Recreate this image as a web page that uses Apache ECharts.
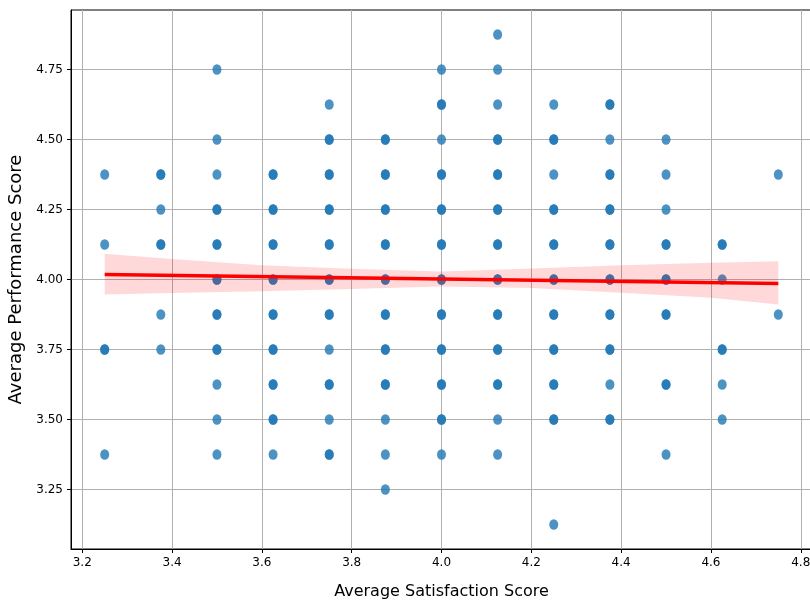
<!DOCTYPE html>
<html>
<head>
<meta charset="utf-8">
<script src="https://cdn.jsdelivr.net/npm/echarts@6/dist/echarts.min.js"></script>
<style>
  html, body { margin: 0; padding: 0; background: #fff; }
  #main { width: 810px; height: 601px; }
</style>
</head>
<body>
<div id="main"></div>
<script>
// scatter points: one array of y values per satisfaction column (repeats = overlapping points)
var colX = [3.25, 3.375, 3.5, 3.625, 3.75, 3.875, 4.0, 4.125, 4.25, 4.375, 4.5, 4.625, 4.75];
var colY = [
  [4.375, 4.125, 3.75, 3.75, 3.375],
  [4.375, 4.375, 4.25, 4.125, 4.125, 3.875, 3.75],
  [4.75, 4.5, 4.375, 4.25, 4.25, 4.125, 4.125, 4.0, 4.0, 3.875, 3.875, 3.75, 3.75, 3.625, 3.5, 3.375],
  [4.375, 4.375, 4.25, 4.25, 4.125, 4.125, 4.0, 4.0, 3.875, 3.875, 3.75, 3.75, 3.625, 3.625, 3.5, 3.5, 3.375],
  [4.625, 4.5, 4.5, 4.375, 4.375, 4.25, 4.25, 4.125, 4.125, 4.0, 4.0, 3.875, 3.875, 3.75, 3.625, 3.625, 3.5, 3.375, 3.375],
  [4.5, 4.5, 4.375, 4.375, 4.25, 4.25, 4.125, 4.125, 4.0, 4.0, 3.875, 3.875, 3.75, 3.75, 3.625, 3.625, 3.5, 3.375, 3.25],
  [4.75, 4.625, 4.625, 4.5, 4.375, 4.375, 4.25, 4.25, 4.125, 4.125, 4.0, 4.0, 3.875, 3.875, 3.75, 3.75, 3.625, 3.625, 3.5, 3.5, 3.375],
  [4.875, 4.75, 4.625, 4.5, 4.5, 4.375, 4.375, 4.25, 4.25, 4.125, 4.125, 4.0, 4.0, 3.875, 3.875, 3.75, 3.75, 3.625, 3.625, 3.5, 3.375],
  [4.625, 4.5, 4.5, 4.375, 4.25, 4.25, 4.125, 4.125, 4.0, 4.0, 3.875, 3.875, 3.75, 3.75, 3.625, 3.625, 3.5, 3.5, 3.125],
  [4.625, 4.625, 4.5, 4.375, 4.375, 4.25, 4.25, 4.125, 4.125, 4.0, 4.0, 3.875, 3.875, 3.75, 3.75, 3.625, 3.5, 3.5],
  [4.5, 4.375, 4.25, 4.125, 4.125, 4.0, 4.0, 3.875, 3.875, 3.625, 3.625, 3.375],
  [4.125, 4.125, 4.0, 3.75, 3.75, 3.625, 3.5],
  [4.375, 3.875]
];

// regression line and 95% band
var fitX = [3.25, 4.75];
var fitY = [4.018, 3.986];
var ciX = [3.25, 3.4, 3.6, 3.8, 4.0, 4.2, 4.4, 4.6, 4.75];
var ciHigh = [4.092, 4.073, 4.051, 4.038, 4.029, 4.039, 4.051, 4.060, 4.065];
var ciLow = [3.946, 3.952, 3.958, 3.966, 3.975, 3.970, 3.953, 3.935, 3.911];

var xTicks = [3.2, 3.4, 3.6, 3.8, 4.0, 4.2, 4.4, 4.6, 4.8];
var yTicks = [3.25, 3.5, 3.75, 4.0, 4.25, 4.5, 4.75];

var points = [];
colX.forEach(function (x, i) {
  colY[i].forEach(function (y) { points.push([x, y]); });
});

var chart = echarts.init(document.getElementById('main'));
var font = 'DejaVu Sans';

var axisCommon = {
  type: 'value',
  axisLine: { show: true, onZero: false, lineStyle: { color: '#000', width: 1 } },
  axisTick: { show: true, length: 4, lineStyle: { color: '#000', width: 1 } },
  splitLine: { show: true, lineStyle: { color: '#b0b0b0', width: 1 } },
  nameLocation: 'middle'
};

var option = {
  animation: false,
  grid: {
    left: 71, top: 10, width: 741, height: 539,
    outerBoundsMode: 'none', containLabel: false,
    show: true, borderColor: '#000', borderWidth: 1
  },
  xAxis: Object.assign({}, axisCommon, {
    min: 3.175, max: 4.825,
    name: 'Average Satisfaction Score',
    nameGap: 35,
    nameTextStyle: { fontFamily: font, fontSize: 16, color: '#000' },
    axisTick: Object.assign({}, axisCommon.axisTick, { customValues: xTicks }),
    axisLabel: { customValues: xTicks, fontFamily: font, fontSize: 12, color: '#000', margin: 8,
      formatter: function (v) { return v.toFixed(1); } }
  }),
  yAxis: Object.assign({}, axisCommon, {
    min: 3.0375, max: 4.9625,
    name: 'Average Performance Score',
    nameGap: 44,
    nameTextStyle: { fontFamily: font, fontSize: 18, color: '#000' },
    axisTick: Object.assign({}, axisCommon.axisTick, { customValues: yTicks }),
    axisLabel: { customValues: yTicks, fontFamily: font, fontSize: 12, color: '#000', margin: 8,
      formatter: function (v) { return v.toFixed(2); } }
  }),
  series: [
    {
      type: 'scatter',
      data: points,
      symbolSize: [9, 10.5],
      itemStyle: { color: '#1f77b4', opacity: 0.8 },
      z: 2
    },
    {
      type: 'custom',
      data: [0],
      z: 3,
      renderItem: function (params, api) {
        var pts = [];
        for (var i = 0; i < ciX.length; i++) pts.push(api.coord([ciX[i], ciHigh[i]]));
        for (var j = ciX.length - 1; j >= 0; j--) pts.push(api.coord([ciX[j], ciLow[j]]));
        return {
          type: 'polygon',
          shape: { points: pts },
          style: { fill: 'rgba(255,0,0,0.15)' }
        };
      }
    },
    {
      type: 'line',
      data: fitX.map(function (x, i) { return [x, fitY[i]]; }),
      symbol: 'none',
      lineStyle: { color: '#ff0000', width: 3.5 },
      z: 4
    }
  ]
};
chart.setOption(option);
</script>
</body>
</html>
